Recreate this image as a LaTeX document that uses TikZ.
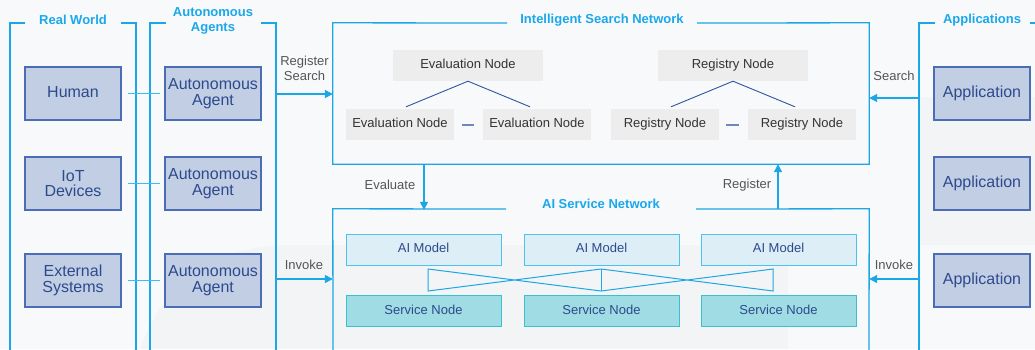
\documentclass[tikz,border=0pt]{standalone}
\usepackage{fontspec}
\setmainfont{Liberation Sans}
\usetikzlibrary{arrows.meta}
\definecolor{bg}{HTML}{F8F9FA}
\definecolor{bgdark}{HTML}{F3F4F5}
\definecolor{cyanline}{HTML}{1BA6E6}
\definecolor{cyantitle}{HTML}{1AA8EC}
\definecolor{connc}{HTML}{3DBAEE}
\definecolor{boxfill}{HTML}{C2CEE4}
\definecolor{boxdraw}{HTML}{4A6DB5}
\definecolor{boxtext}{HTML}{2C4A8C}
\definecolor{gfill}{HTML}{EDEDED}
\definecolor{gtext}{HTML}{333333}
\definecolor{treec}{HTML}{2F55A0}
\definecolor{dashc}{HTML}{7088B8}
\definecolor{amfill}{HTML}{DDEEF7}
\definecolor{amdraw}{HTML}{4CC3EE}
\definecolor{svfill}{HTML}{A0DCE3}
\definecolor{svdraw}{HTML}{3CBFCF}
\definecolor{lblc}{HTML}{555555}
\tikzset{
  bluebox/.style={draw=boxdraw, line width=1.1pt, fill=boxfill, text=boxtext,
    minimum width=96, minimum height=53, inner sep=0pt, align=center,
    font=\fontsize{16}{15.5}\selectfont},
  onel/.style={text height=11.5pt, text depth=3.5pt},
  gnode/.style={fill=gfill, text=gtext, minimum height=31, inner sep=0pt,
    text height=9.5pt, text depth=3pt, font=\fontsize{13}{15}\selectfont},
  aibox/.style={draw=amdraw, line width=1pt, fill=amfill, text=boxtext,
    minimum width=155, minimum height=31, inner sep=0pt,
    text height=9.5pt, text depth=3pt, font=\fontsize{13}{15}\selectfont},
  svbox/.style={draw=svdraw, line width=1pt, fill=svfill, text=boxtext,
    minimum width=155, minimum height=31, inner sep=0pt,
    text height=9.5pt, text depth=3pt, font=\fontsize{13}{15}\selectfont},
  ttl/.style={text=cyantitle, align=center, inner sep=0pt,
    font=\fontsize{13}{15}\selectfont\bfseries},
  lbl/.style={text=lblc, align=center, inner sep=0pt, font=\fontsize{13}{15}\selectfont},
  pline/.style={draw=cyanline, line width=1.3pt},
  arr/.style={draw=cyanline, line width=1.3pt, -{Triangle[length=8pt,width=8pt]}},
  conn/.style={draw=connc, line width=1.5pt},
  tree/.style={draw=treec, line width=0.9pt},
  dsh/.style={draw=dashc, line width=2pt},
  crossl/.style={draw=cyanline, line width=1pt, line join=miter}
}
\begin{document}
\begin{tikzpicture}[x=1pt,y=-1pt]
\useasboundingbox (0,0) rectangle (1035,349);
\fill[bg] (0,0) rectangle (1035,349);
% subtle background shading
\fill[bgdark] (140,349) .. controls (170,270) and (220,245) .. (300,245) -- (788,245) -- (788,349) -- cycle;
\fill[bgdark] (919,97) rectangle (1035,245);

% panel frames
\draw[pline] (25,23) -- (10,23) -- (10,350);
\draw[pline] (121,23) -- (136,23) -- (136,350);
\draw[pline] (166,23) -- (150,23) -- (150,350);
\draw[pline] (261,23) -- (276,23) -- (276,350);
\draw[pline] (935,23) -- (919,23) -- (919,350);
\draw[pline] (1030,23) -- (1036,23);

% titles
\node[ttl] (tRW) at (73,20) {Real World};
\node[ttl] (tAA) at (213,20.5) {Autonomous\\Agents};
\node[ttl] (tISN) at (602,20) {Intelligent Search Network};
\node[ttl] (tAP) at (982,20) {Applications};
\node[ttl] (tAIS) at (601,204) {AI Service Network};

% network frames
\node[minimum width=536, minimum height=141, inner sep=0pt] (isn) at (601,93.5) {};
\node[minimum width=536, minimum height=140, inner sep=0pt] (ais) at (601,279) {};
\draw[pline] (507,23) -- (isn.north west) -- (isn.south west) -- (isn.south east) -- (isn.north east) -- (697,23);
\draw[pline] (506,209) -- (ais.north west) -- (333,350);
\draw[pline] (696,209) -- (ais.north east) -- (869,350);

% real world
\node[bluebox, onel] (hum) at (73,93.5) {Human};
\node[bluebox] (iot) at (73,183.5) {IoT\\Devices};
\node[bluebox] (ext) at (73,280.5) {External\\Systems};
% agents
\node[bluebox] (ag1) at (213,93.5) {Autonomous\\Agent};
\node[bluebox] (ag2) at (213,183.5) {Autonomous\\Agent};
\node[bluebox] (ag3) at (213,280.5) {Autonomous\\Agent};
% applications
\node[bluebox, onel] (ap1) at (982,93.5) {Application};
\node[bluebox, onel] (ap2) at (982,183.5) {Application};
\node[bluebox, onel] (ap3) at (982,280.5) {Application};

\draw[conn] ([xshift=6]hum.east) -- ([xshift=-4]ag1.west);
\draw[conn] ([xshift=6]iot.east) -- ([xshift=-4]ag2.west);
\draw[conn] ([xshift=6]ext.east) -- ([xshift=-4]ag3.west);

% evaluation tree
\node[gnode, minimum width=150] (ev0) at (468,65.5) {Evaluation Node};
\node[gnode, minimum width=108] (ev1) at (400,124.5) {Evaluation Node};
\node[gnode, minimum width=108] (ev2) at (537,124.5) {Evaluation Node};
\draw[tree] (ev0.south) -- ([shift={(6,-2)}]ev1.north);
\draw[tree] (ev0.south) -- ([shift={(-7,-2)}]ev2.north);
\draw[dsh] ([xshift=8]ev1.east) -- ([xshift=-9]ev2.west);

% registry tree
\node[gnode, minimum width=150] (rg0) at (733,65.5) {Registry Node};
\node[gnode, minimum width=108] (rg1) at (665,124.5) {Registry Node};
\node[gnode, minimum width=108] (rg2) at (802,124.5) {Registry Node};
\draw[tree] (rg0.south) -- ([shift={(6,-2)}]rg1.north);
\draw[tree] (rg0.south) -- ([shift={(-7,-2)}]rg2.north);
\draw[dsh] ([xshift=7]rg1.east) -- ([xshift=-9]rg2.west);

% AI service network
\node[aibox] (am1) at (423.5,249.5) {AI Model};
\node[aibox] (am2) at (601.5,249.5) {AI Model};
\node[aibox] (am3) at (778.5,249.5) {AI Model};
\node[svbox] (sv1) at (423.5,311) {Service Node};
\node[svbox] (sv2) at (601.5,311) {Service Node};
\node[svbox] (sv3) at (778.5,311) {Service Node};
\draw[crossl] (428,269) -- (601,291) -- (773,269) -- (773,291) -- (601,269) -- (428,291) -- cycle;
\draw[crossl] (601,269) -- (601,291);

% arrows
\coordinate (rs) at (276,94);
\coordinate (sr) at (919,98);
\coordinate (ivl) at (276,279);
\coordinate (ivr) at (919,279);
\coordinate (evx) at (424,0);
\coordinate (rgx) at (778,0);
\draw[arr] (rs) -- (rs -| isn.west);
\draw[arr] (sr) -- (sr -| isn.east);
\draw[arr] (ivl) -- (ais.west);
\draw[arr] (ivr) -- (ais.east);
\draw[arr] (isn.south -| evx) -- ([yshift=-1]ais.north -| evx);
\draw[arr] (ais.north -| rgx) -- (isn.south -| rgx);

% labels
\node[lbl] (lRS) at (304.5,68.5) {Register\\Search};
\node[lbl] (lS) at (894,76) {Search};
\node[lbl] (lEv) at (390,185) {Evaluate};
\node[lbl] (lRg) at (747,185) {Register};
\node[lbl] (lIl) at (304,265) {Invoke};
\node[lbl] (lIr) at (894,265) {Invoke};
\end{tikzpicture}
\end{document}
